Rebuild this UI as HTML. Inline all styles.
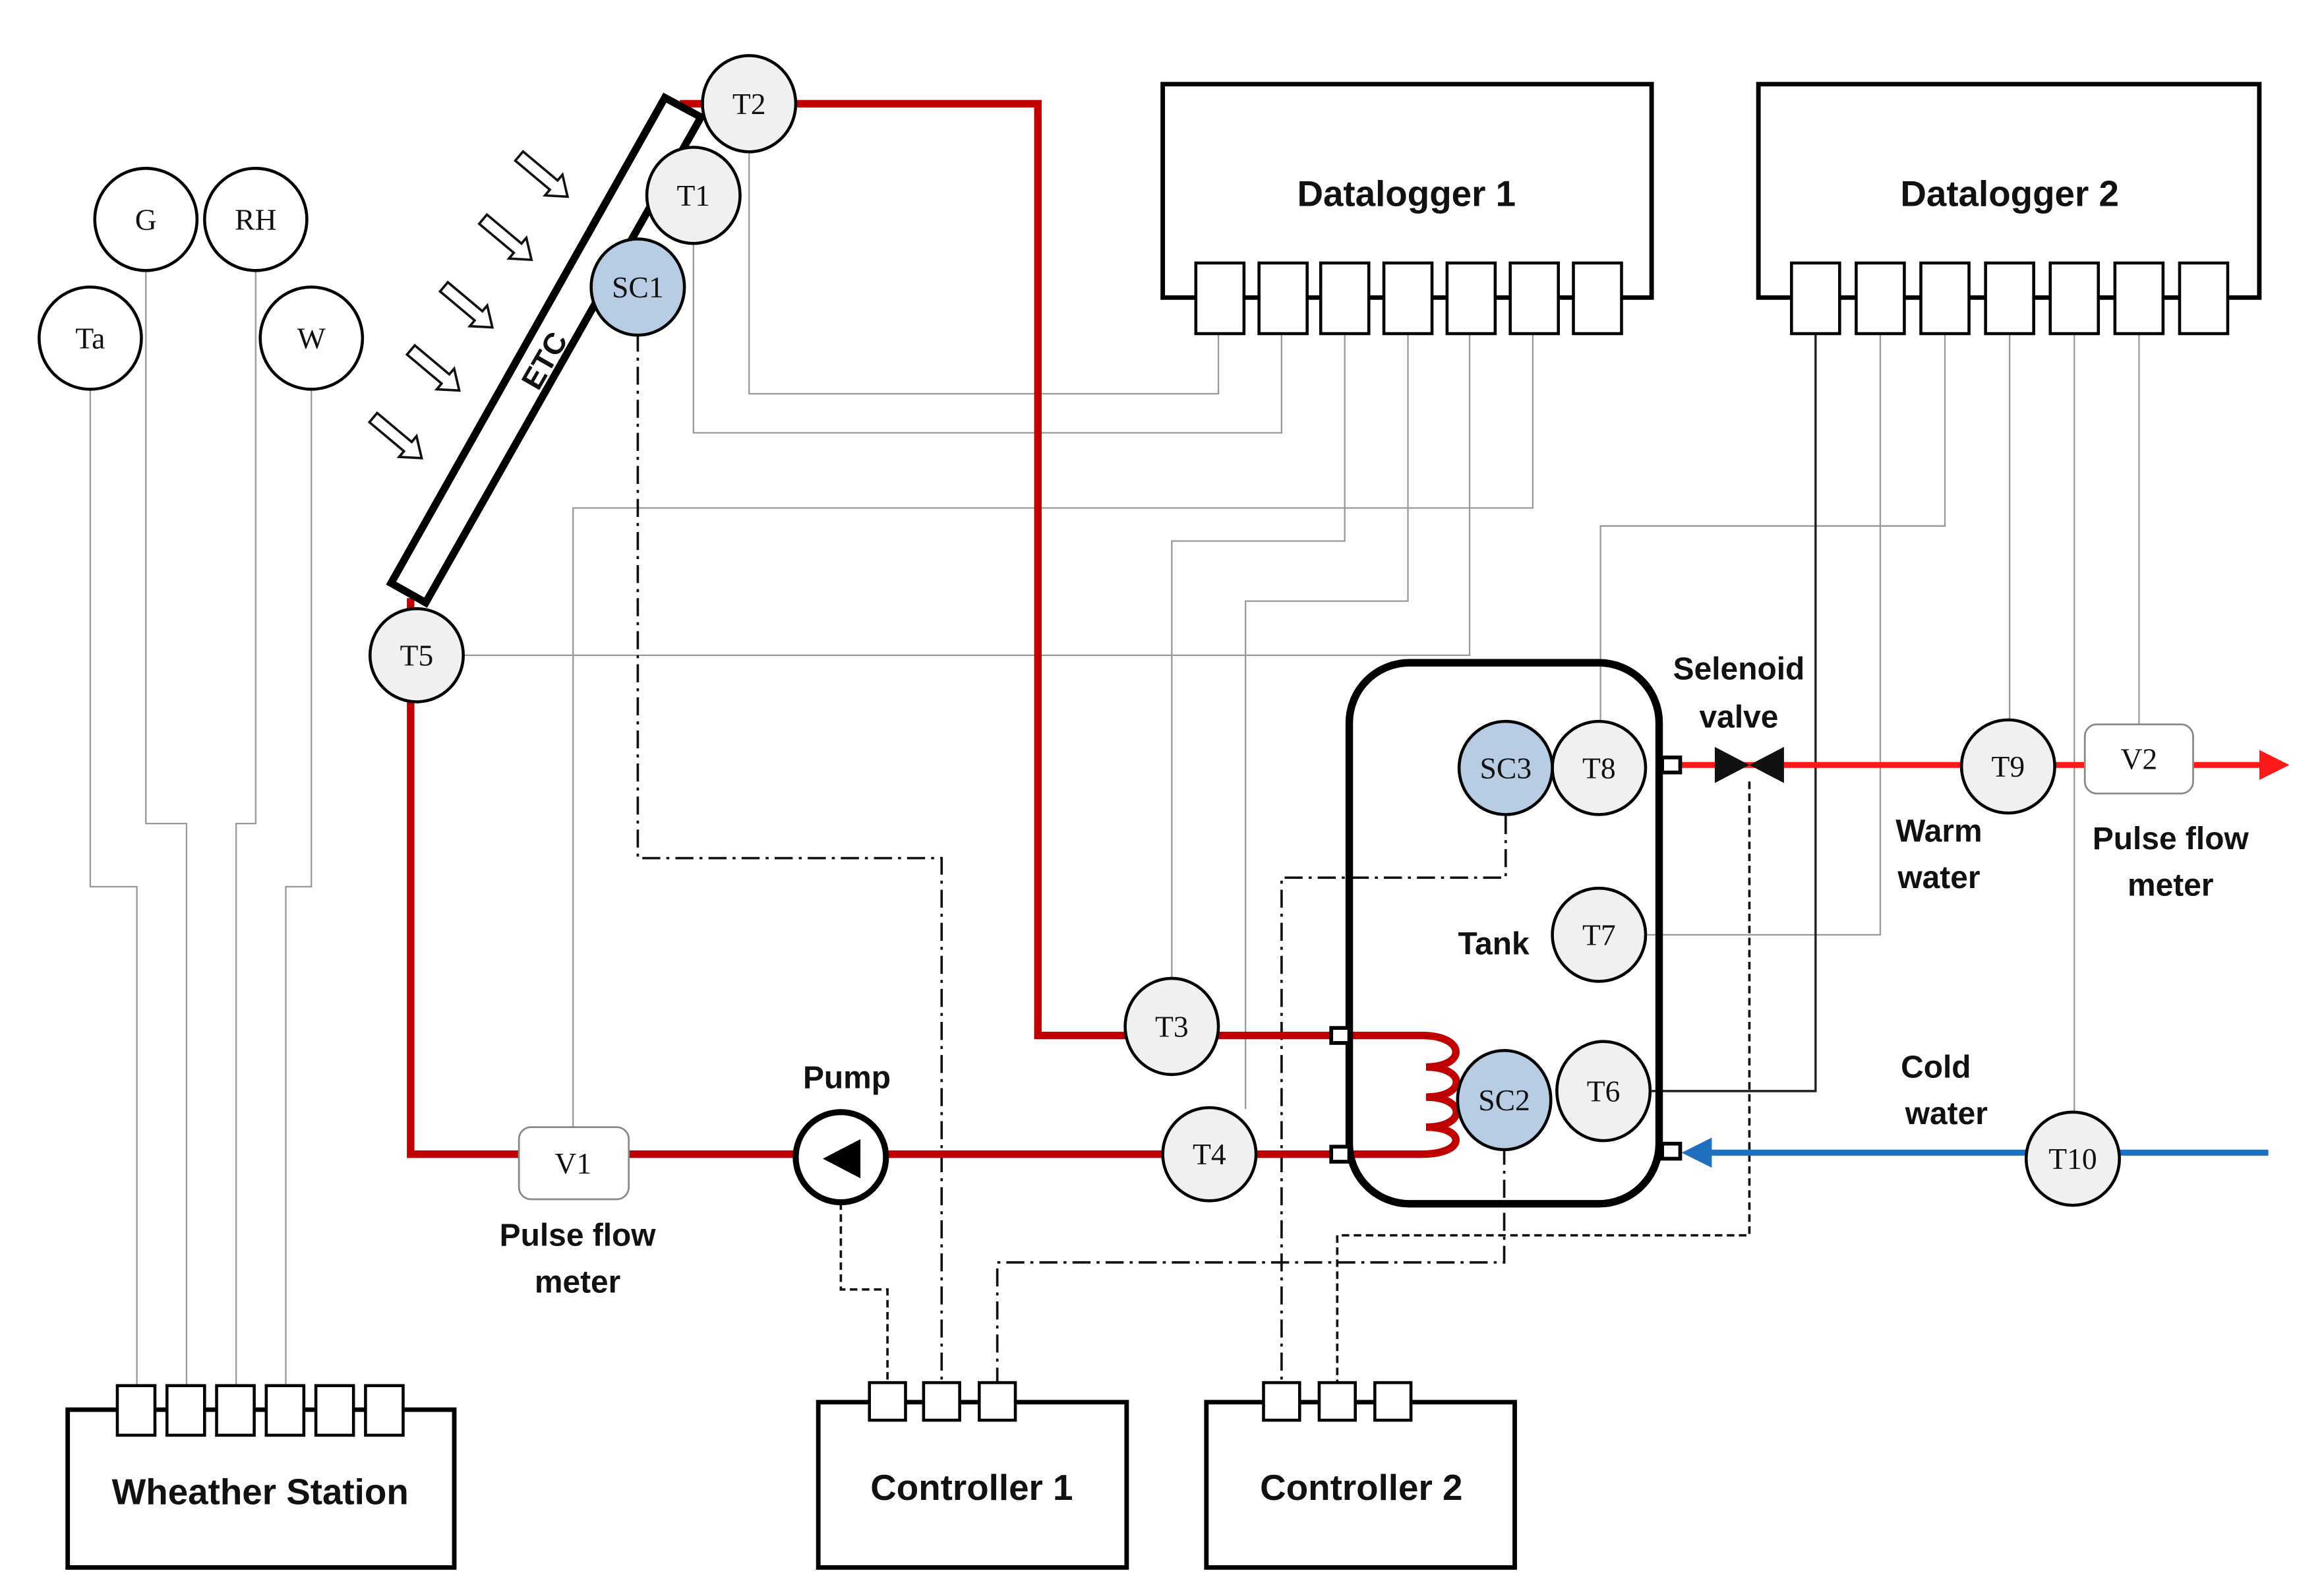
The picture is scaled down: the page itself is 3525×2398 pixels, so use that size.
<!DOCTYPE html>
<html><head><meta charset="utf-8"><style>
html,body{margin:0;padding:0;background:#fff}
svg{display:block}
.s{font-family:"Liberation Serif",serif;font-size:20px;text-anchor:middle;dominant-baseline:central;fill:#111}
.b{font-family:"Liberation Sans",sans-serif;font-weight:bold;text-anchor:middle;fill:#111}
</style></head><body>
<svg width="3525" height="2398" viewBox="0 0 1545 1052" preserveAspectRatio="none" xmlns="http://www.w3.org/2000/svg">
<defs>
<marker id="ar" markerWidth="5" markerHeight="5" refX="4" refY="2.5" orient="auto" markerUnits="strokeWidth"><path d="M0,0 L5,2.5 L0,5 z" fill="#ff1a1a"/></marker>
<marker id="ab" markerWidth="5" markerHeight="5" refX="4" refY="2.5" orient="auto" markerUnits="strokeWidth"><path d="M0,0 L5,2.5 L0,5 z" fill="#1f6fc0"/></marker>
</defs>
<g fill="none" stroke="#999" stroke-width="1">
<path d="M60,258 V590 H91 V922"/>
<path d="M97,180 V548 H124 V922"/>
<path d="M170,180 V548 H157 V922"/>
<path d="M207,258 V590 H190 V922"/>
<path d="M498,100 V262 H810 V222"/>
<path d="M461,161 V288 H852 V222"/>
<path d="M894,222 V360 H779 V652"/>
<path d="M936,222 V400 H828 V738"/>
<path d="M308,436 H977 V222"/>
<path d="M1019,222 V338 H381 V750"/>
<path d="M1250,222 V622 H1095"/>
<path d="M1293,222 V350 H1064 V480"/>
<path d="M1336,222 V480"/>
<path d="M1379,222 V740"/>
<path d="M1422,222 V482"/>
</g>
<path d="M1207,222 V726 H1098" fill="none" stroke="#222" stroke-width="1.5"/>
<g fill="none" stroke="#111" stroke-width="1.6">
<path d="M424,222 V571 H626 V922" stroke-dasharray="12,4,2,4"/>
<path d="M1001,543 V584 H852 V922" stroke-dasharray="12,4,2,4"/>
<path d="M1000,763 V840 H663 V922" stroke-dasharray="12,4,2,4"/>
<path d="M559,800 V858 H590 V922" stroke-dasharray="5,3"/>
<path d="M1163,520 V822 H889 V922" stroke-dasharray="5,3"/>
</g>
<g fill="none" stroke="#c00000" stroke-width="5">
<path d="M452,69 H690 V689 H890"/>
<path d="M273,398 V768 H890"/>
<path d="M894,689 H945 C975,689 975,710 948,710 C975,710 975,730 948,730 C975,730 975,750 948,750 C975,750 975,768 945,768 H894"/>
</g>
<path d="M1118,509 H1518" stroke="#ff1a1a" stroke-width="4" marker-end="url(#ar)"/>
<path d="M1508,767 H1122" stroke="#1f6fc0" stroke-width="4" marker-end="url(#ab)"/>
<polygon points="260,388 283,401 466,78 442,65" fill="#fff" stroke="#000" stroke-width="5"/>
<text class="b" font-size="20" transform="translate(362,240) rotate(-60)" dominant-baseline="central">ETC</text>
<g fill="#fff" stroke="#111" stroke-width="1.6">
<g transform="translate(265,292) rotate(40)"><path d="M-22,-4 H8 V-9 L20,0 L8,9 V4 H-22 z"/></g>
<g transform="translate(290,247) rotate(40)"><path d="M-22,-4 H8 V-9 L20,0 L8,9 V4 H-22 z"/></g>
<g transform="translate(312,205) rotate(40)"><path d="M-22,-4 H8 V-9 L20,0 L8,9 V4 H-22 z"/></g>
<g transform="translate(338,160) rotate(40)"><path d="M-22,-4 H8 V-9 L20,0 L8,9 V4 H-22 z"/></g>
<g transform="translate(362,118) rotate(40)"><path d="M-22,-4 H8 V-9 L20,0 L8,9 V4 H-22 z"/></g>
</g>
<rect x="897" y="441" width="206" height="360" rx="40" fill="none" stroke="#000" stroke-width="5"/>
<g fill="#fff" stroke="#000" stroke-width="2.5">
<rect x="885" y="684" width="12" height="10"/><rect x="885" y="763" width="12" height="10"/>
<rect x="1105" y="504" width="12" height="10"/><rect x="1105" y="761" width="12" height="10"/>
</g>
<path d="M1140,497 L1163,509 L1140,521 z M1186,497 L1163,509 L1186,521 z" fill="#111"/>
<g stroke="#000" stroke-width="2">
<g fill="#fff">
<ellipse cx="60" cy="225" rx="34" ry="34"/><ellipse cx="97" cy="146" rx="34" ry="34"/>
<ellipse cx="170" cy="146" rx="34" ry="34"/><ellipse cx="207" cy="225" rx="34" ry="34"/>
</g>
<g fill="#f0f0f0">
<ellipse cx="498" cy="69" rx="31" ry="32"/><ellipse cx="461" cy="130" rx="31" ry="32"/>
<ellipse cx="277" cy="436" rx="31" ry="31"/><ellipse cx="779" cy="683" rx="31" ry="32"/>
<ellipse cx="804" cy="768" rx="31" ry="31"/><ellipse cx="1063" cy="511" rx="31" ry="31"/>
<ellipse cx="1063" cy="622" rx="31" ry="31"/><ellipse cx="1066" cy="726" rx="31" ry="33"/>
<ellipse cx="1335" cy="510" rx="31" ry="31"/><ellipse cx="1378" cy="771" rx="31" ry="31"/>
</g>
<g fill="#b8cce4">
<ellipse cx="424" cy="191" rx="31" ry="32"/><ellipse cx="1001" cy="511" rx="31" ry="31"/>
<ellipse cx="1000" cy="732" rx="31" ry="33"/>
</g>
<circle cx="559" cy="770" r="30" fill="#fff" stroke-width="4"/>
<rect x="345" y="750" width="73" height="48" rx="8" fill="#fff" stroke="#888" stroke-width="1.2"/>
<rect x="1386" y="482" width="72" height="46" rx="8" fill="#fff" stroke="#888" stroke-width="1.2"/>
</g>
<path d="M572,758 L572,784 L547,771 z" fill="#000"/>
<g class="s">
<text x="60" y="225">Ta</text><text x="97" y="146">G</text><text x="170" y="146">RH</text><text x="207" y="225">W</text>
<text x="498" y="69">T2</text><text x="461" y="130">T1</text><text x="424" y="191">SC1</text><text x="277" y="436">T5</text>
<text x="779" y="683">T3</text><text x="804" y="768">T4</text><text x="1001" y="511">SC3</text><text x="1063" y="511">T8</text>
<text x="1063" y="622">T7</text><text x="1000" y="732">SC2</text><text x="1066" y="726">T6</text>
<text x="1335" y="510">T9</text><text x="1378" y="771">T10</text><text x="381" y="774">V1</text><text x="1422" y="505">V2</text>
</g>
<g fill="#fff" stroke="#000" stroke-width="3">
<rect x="773" y="56" width="325" height="142"/>
<rect x="1169" y="56" width="333" height="142"/>
<rect x="45" y="938" width="257" height="105"/>
<rect x="544" y="933" width="205" height="110"/>
<rect x="802" y="933" width="205" height="110"/>
</g>
<g fill="#fff" stroke="#000" stroke-width="2">
<rect x="795" y="175" width="32" height="47"/><rect x="837" y="175" width="32" height="47"/><rect x="878" y="175" width="32" height="47"/><rect x="920" y="175" width="32" height="47"/><rect x="962" y="175" width="32" height="47"/><rect x="1004" y="175" width="32" height="47"/><rect x="1046" y="175" width="32" height="47"/>
<rect x="1191" y="175" width="32" height="47"/><rect x="1234" y="175" width="32" height="47"/><rect x="1277" y="175" width="32" height="47"/><rect x="1320" y="175" width="32" height="47"/><rect x="1363" y="175" width="32" height="47"/><rect x="1406" y="175" width="32" height="47"/><rect x="1449" y="175" width="32" height="47"/>
<rect x="78" y="922" width="25" height="33"/><rect x="111" y="922" width="25" height="33"/><rect x="144" y="922" width="25" height="33"/><rect x="177" y="922" width="25" height="33"/><rect x="210" y="922" width="25" height="33"/><rect x="243" y="922" width="25" height="33"/>
<rect x="578" y="920" width="24" height="25"/><rect x="614" y="920" width="24" height="25"/><rect x="651" y="920" width="24" height="25"/>
<rect x="840" y="920" width="24" height="25"/><rect x="877" y="920" width="24" height="25"/><rect x="914" y="920" width="24" height="25"/>
</g>
<g class="b" font-size="24">
<text x="935" y="137">Datalogger 1</text><text x="1336" y="137">Datalogger 2</text>
<text x="173" y="1001">Wheather Station</text><text x="646" y="998">Controller 1</text><text x="905" y="998">Controller 2</text>
</g>
<g class="b" font-size="21">
<text x="563" y="724">Pump</text>
<text x="384" y="829">Pulse flow</text><text x="384" y="860">meter</text>
<text x="1156" y="452">Selenoid</text><text x="1156" y="484">valve</text>
<text x="1289" y="560">Warm</text><text x="1289" y="591">water</text>
<text x="1443" y="565">Pulse flow</text><text x="1443" y="596">meter</text>
<text x="1287" y="717">Cold</text><text x="1294" y="748">water</text>
<text x="993" y="635">Tank</text>
</g>
</svg>
</body></html>
